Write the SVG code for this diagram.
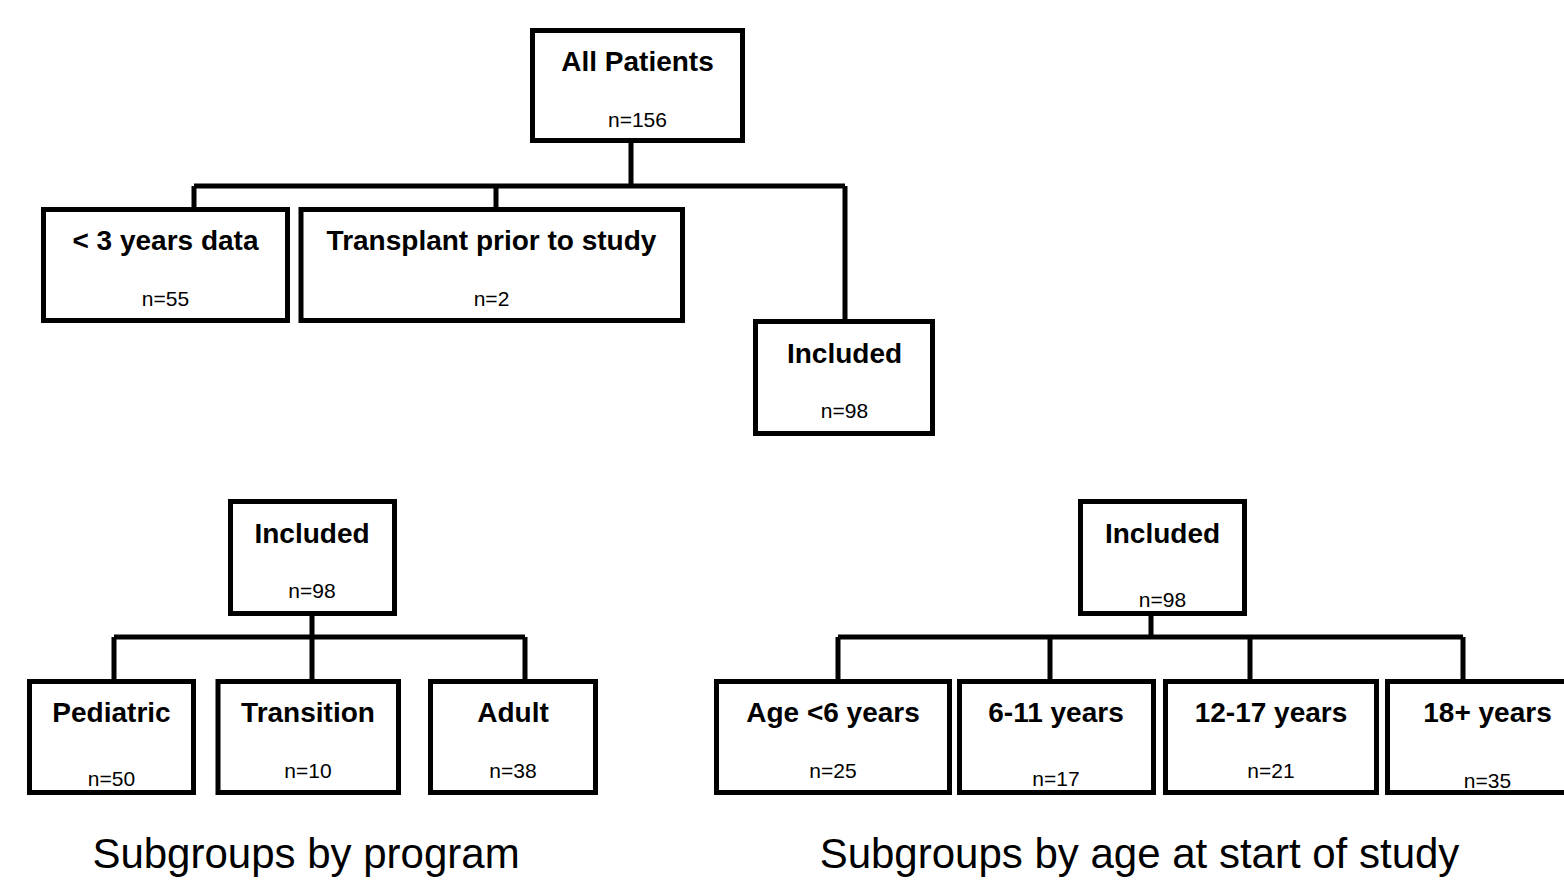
<svg xmlns="http://www.w3.org/2000/svg" width="1564" height="880" viewBox="0 0 1564 880">
<style>
.box{fill:#fff;stroke:#000;stroke-width:5}
.conn{fill:none;stroke:#000;stroke-width:5}
.t{font-family:"Liberation Sans",Arial,sans-serif;font-weight:bold;font-size:28px;text-anchor:middle;fill:#000}
.n{font-family:"Liberation Sans",Arial,sans-serif;font-size:21px;text-anchor:middle;fill:#000}
.cap{font-family:"Liberation Sans",Arial,sans-serif;font-size:42px;text-anchor:middle;fill:#000}
</style>
<rect width="1564" height="880" fill="#fff"/>
<g id="connectors">
<path class="conn" d="M631,143V186M194,186H845M194,186V207M496,186V207M845,186V319"/>
<path class="conn" d="M312,616V637M114,637H525M114,637V679M312,637V679M525,637V679"/>
<path class="conn" d="M1151,616V637M838,637H1463M838,637V679M1050,637V679M1250,637V679M1463,637V679"/>
</g>
<g id="all-patients"><rect class="box" x="532.5" y="30.5" width="210" height="110"/><text class="t" x="637.5" y="71">All Patients</text><text class="n" x="637.5" y="127">n=156</text></g>
<g id="lt3years"><rect class="box" x="43.5" y="209.5" width="244" height="111"/><text class="t" x="165.5" y="250">&lt; 3 years data</text><text class="n" x="165.5" y="306">n=55</text></g>
<g id="transplant"><rect class="box" x="301" y="209.5" width="381.5" height="111"/><text class="t" x="491.5" y="250">Transplant prior to study</text><text class="n" x="491.5" y="306">n=2</text></g>
<g id="included-top"><rect class="box" x="755.5" y="321.5" width="177" height="112"/><text class="t" x="844.5" y="363">Included</text><text class="n" x="844.5" y="418">n=98</text></g>
<g id="included-program"><rect class="box" x="230.5" y="501.5" width="164" height="112"/><text class="t" x="312" y="543">Included</text><text class="n" x="312" y="598">n=98</text></g>
<g id="pediatric"><rect class="box" x="29.5" y="681.5" width="164" height="111"/><text class="t" x="111.5" y="722">Pediatric</text><text class="n" x="111.5" y="786">n=50</text></g>
<g id="transition"><rect class="box" x="218" y="681.5" width="180.5" height="111"/><text class="t" x="308" y="722">Transition</text><text class="n" x="308" y="778">n=10</text></g>
<g id="adult"><rect class="box" x="430.5" y="681.5" width="165" height="111"/><text class="t" x="513" y="722">Adult</text><text class="n" x="513" y="778">n=38</text></g>
<g id="included-age"><rect class="box" x="1080.5" y="501.5" width="164" height="112"/><text class="t" x="1162.5" y="543">Included</text><text class="n" x="1162.5" y="607">n=98</text></g>
<g id="age-lt6"><rect class="box" x="716.5" y="681.5" width="233" height="111"/><text class="t" x="833" y="722">Age &lt;6 years</text><text class="n" x="833" y="778">n=25</text></g>
<g id="age-6-11"><rect class="box" x="959.5" y="681.5" width="194" height="111"/><text class="t" x="1056" y="722">6-11 years</text><text class="n" x="1056" y="786">n=17</text></g>
<g id="age-12-17"><rect class="box" x="1165.5" y="681.5" width="211" height="111"/><text class="t" x="1271" y="722">12-17 years</text><text class="n" x="1271" y="778">n=21</text></g>
<g id="age-18plus"><rect class="box" x="1387.5" y="681.5" width="200" height="111"/><text class="t" x="1487.5" y="722">18+ years</text><text class="n" x="1487.5" y="788">n=35</text></g>
<g id="captions"><text class="cap" x="306" y="868">Subgroups by program</text><text class="cap" x="1139.5" y="868">Subgroups by age at start of study</text></g>
</svg>
